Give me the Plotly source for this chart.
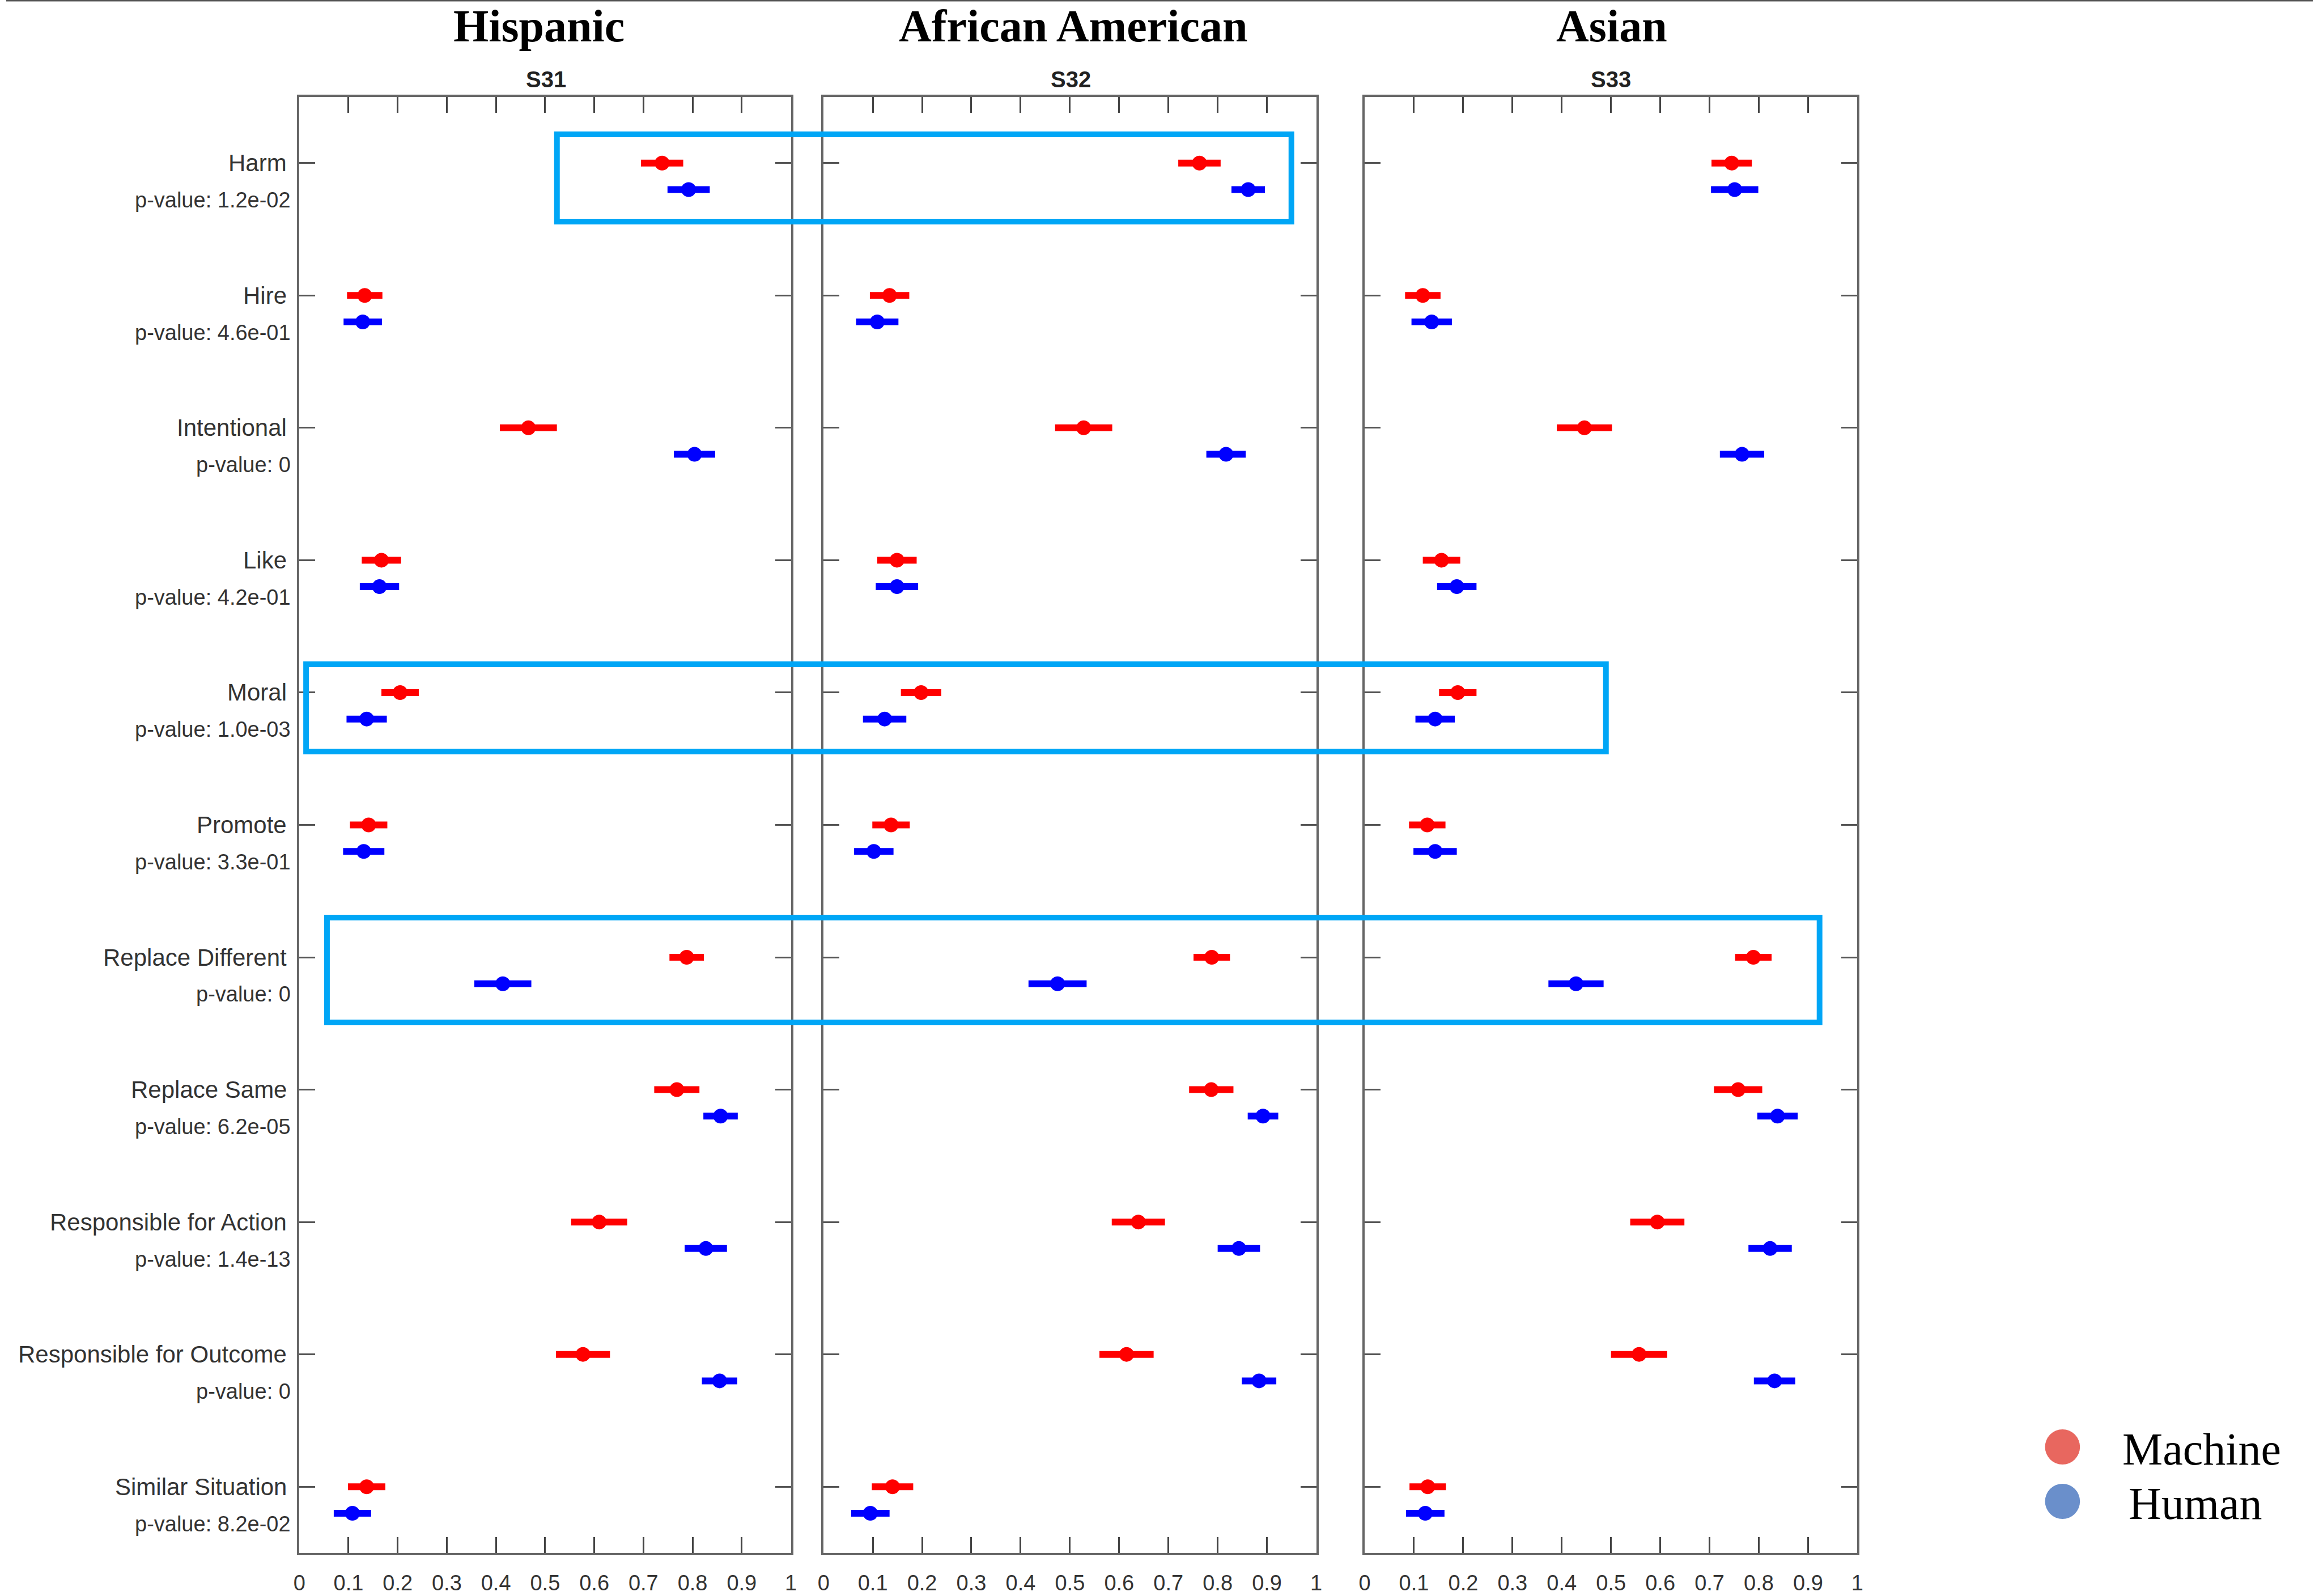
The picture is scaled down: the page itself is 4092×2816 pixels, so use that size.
import plotly.graph_objects as go

# ---- data ---------------------------------------------------------------
categories = ["Harm", "Hire", "Intentional", "Like", "Moral", "Promote",
              "Replace Different", "Replace Same", "Responsible for Action",
              "Responsible for Outcome", "Similar Situation"]
p_values = ["1.2e-02", "4.6e-01", "0", "4.2e-01", "1.0e-03", "3.3e-01",
            "0", "6.2e-05", "1.4e-13", "0", "8.2e-02"]

groups = ["Hispanic", "African American", "Asian"]
studies = ["S31", "S32", "S33"]

hispanic_machine = [0.738, 0.133, 0.466, 0.167, 0.205, 0.141, 0.788, 0.768, 0.610, 0.577, 0.137]
hispanic_machine_err = [0.043, 0.036, 0.058, 0.040, 0.038, 0.038, 0.035, 0.046, 0.057, 0.055, 0.038]
hispanic_human = [0.792, 0.129, 0.804, 0.163, 0.137, 0.131, 0.414, 0.857, 0.827, 0.855, 0.108]
hispanic_human_err = [0.043, 0.039, 0.042, 0.040, 0.041, 0.042, 0.058, 0.035, 0.043, 0.036, 0.038]

african_american_machine = [0.763, 0.134, 0.528, 0.149, 0.198, 0.137, 0.788, 0.787, 0.639, 0.615, 0.140]
african_american_machine_err = [0.043, 0.040, 0.058, 0.040, 0.041, 0.038, 0.037, 0.045, 0.054, 0.055, 0.042]
african_american_human = [0.862, 0.109, 0.817, 0.149, 0.124, 0.102, 0.475, 0.892, 0.843, 0.884, 0.095]
african_american_human_err = [0.034, 0.043, 0.040, 0.043, 0.044, 0.040, 0.059, 0.031, 0.043, 0.035, 0.039]

asian_machine = [0.745, 0.118, 0.446, 0.156, 0.189, 0.127, 0.789, 0.758, 0.594, 0.557, 0.128]
asian_machine_err = [0.041, 0.036, 0.056, 0.038, 0.038, 0.037, 0.037, 0.049, 0.055, 0.057, 0.037]
asian_human = [0.751, 0.136, 0.766, 0.187, 0.143, 0.143, 0.429, 0.838, 0.823, 0.832, 0.123]
asian_human_err = [0.048, 0.041, 0.045, 0.040, 0.040, 0.044, 0.056, 0.041, 0.044, 0.042, 0.039]

x_ticks = [0, 0.1, 0.2, 0.3, 0.4, 0.5, 0.6, 0.7, 0.8, 0.9, 1]
x_tick_labels = ["0", "0.1", "0.2", "0.3", "0.4", "0.5", "0.6", "0.7", "0.8", "0.9", "1"]

# categories whose rows are highlighted
highlights = ["Harm", "Moral", "Replace Different"]

# ---- layout helpers -------------------------------------------------------
W, H = 4092, 2816


def px(x):
    return x / W


def py(y):
    return 1 - y / H


panel_px = [(520, 1392), (1450, 2324), (2410, 3284)]
plot_top, plot_bottom = 171, 2740
HUMAN_SHIFT = 0.2

series = [
    (hispanic_machine, hispanic_machine_err, hispanic_human, hispanic_human_err),
    (african_american_machine, african_american_machine_err, african_american_human, african_american_human_err),
    (asian_machine, asian_machine_err, asian_human, asian_human_err),
]

rows = list(range(1, len(categories) + 1))

fig = go.Figure()

for k, (m, m_err, h, h_err) in enumerate(series):
    xa = "x" if k == 0 else f"x{k + 1}"
    ya = "y" if k == 0 else f"y{k + 1}"
    fig.add_trace(go.Scatter(
        x=m, y=rows, mode="markers", xaxis=xa, yaxis=ya, showlegend=False,
        marker=dict(color="#ff0000", size=26),
        error_x=dict(type="data", array=m_err, visible=True, color="#ff0000",
                     thickness=12, width=0),
    ))
    fig.add_trace(go.Scatter(
        x=h, y=[r + HUMAN_SHIFT for r in rows], mode="markers", xaxis=xa, yaxis=ya,
        showlegend=False,
        marker=dict(color="#0000ff", size=26),
        error_x=dict(type="data", array=h_err, visible=True, color="#0000ff",
                     thickness=12, width=0),
    ))

axis_line = "#666666"
tick_font = dict(family="Liberation Sans, Arial, sans-serif", size=38, color="#333333")

layout = dict(
    width=W, height=H,
    margin=dict(l=0, r=0, t=0, b=0),
    paper_bgcolor="white", plot_bgcolor="white",
    showlegend=False,
)

for k, (x0, x1) in enumerate(panel_px):
    sfx = "" if k == 0 else str(k + 1)
    layout["xaxis" + sfx] = dict(
        domain=[px(x0), px(x1)], range=[0, 1], anchor="y" + sfx,
        tickvals=x_ticks, ticktext=x_tick_labels, ticks="inside", ticklen=28,
        tickwidth=3, tickcolor="#444444", showline=True, linewidth=4,
        linecolor=axis_line, mirror="ticks", showgrid=False, zeroline=False,
        tickfont=tick_font, ticklabelstandoff=16,
    )
    layout["yaxis" + sfx] = dict(
        domain=[py(plot_bottom), py(plot_top)], range=[len(categories) + 0.5, 0.5],
        anchor="x" + sfx, tickvals=rows, showticklabels=False, ticks="inside",
        ticklen=28, tickwidth=3, tickcolor="#555555", showline=True, linewidth=4,
        linecolor=axis_line, mirror="ticks", showgrid=False, zeroline=False,
    )

fig.update_layout(**layout)

annotations = []

# group headers and study names
header_x = [945, 1893, 2848]
study_x = [958, 1889, 2847]
for g, s, hx, sx in zip(groups, studies, header_x, study_x):
    annotations.append(dict(
        text=f"<b>{g}</b>", x=px(hx), y=py(46), xref="paper", yref="paper",
        xanchor="center", yanchor="middle", showarrow=False,
        font=dict(family="Liberation Serif, Times New Roman, serif", size=80, color="black"),
    ))
    annotations.append(dict(
        text=f"<b>{s}</b>", x=px(sx), y=py(140), xref="paper", yref="paper",
        xanchor="center", yanchor="middle", showarrow=False,
        font=dict(family="Liberation Sans, Arial, sans-serif", size=40, color="#222222"),
    ))

# row labels with p-values
for r, cat, pv in zip(rows, categories, p_values):
    annotations.append(dict(
        text=cat, x=px(500), y=r, xref="paper", yref="y",
        xanchor="right", yanchor="middle", showarrow=False,
        font=dict(family="Liberation Sans, Arial, sans-serif", size=42, color="#333333"),
    ))
    annotations.append(dict(
        text=f"p-value: {pv}", x=px(507), y=r + 0.28, xref="paper", yref="y",
        xanchor="right", yanchor="middle", showarrow=False,
        font=dict(family="Liberation Sans, Arial, sans-serif", size=38, color="#333333"),
    ))

# legend
legend_items = [("Machine", "#e8675f", 2553, 3752), ("Human", "#6a8fcb", 2649, 3763)]
shapes = []
for name, col, cy, tx in legend_items:
    r = 31
    shapes.append(dict(
        type="circle", xref="paper", yref="paper",
        x0=px(3648 - r), x1=px(3648 + r), y0=py(cy + r), y1=py(cy - r),
        fillcolor=col, line=dict(width=0),
    ))
    annotations.append(dict(
        text=name, x=px(tx), y=py(cy + 4), xref="paper", yref="paper",
        xanchor="left", yanchor="middle", showarrow=False,
        font=dict(family="Liberation Serif, Times New Roman, serif", size=80, color="black"),
    ))

# highlight boxes around selected rows (pixel edges: left, right, top, bottom)
box_edges = {
    "Harm": (977, 2280, 237, 391),
    "Moral": (532, 2838, 1172, 1326),
    "Replace Different": (569, 3217, 1619, 1804),
}
for cat in highlights:
    x0, x1, y0, y1 = box_edges[cat]
    shapes.append(dict(
        type="rect", xref="paper", yref="paper",
        x0=px(x0), x1=px(x1), y0=py(y1), y1=py(y0),
        line=dict(color="#00a6f6", width=10), fillcolor="rgba(0,0,0,0)",
    ))

# thin frame line along the top edge
shapes.append(dict(type="line", xref="paper", yref="paper", x0=0, x1=1, y0=py(1), y1=py(1),
                   line=dict(color="#555555", width=3)))

fig.update_layout(annotations=annotations, shapes=shapes)

fig.write_html("out.html")
